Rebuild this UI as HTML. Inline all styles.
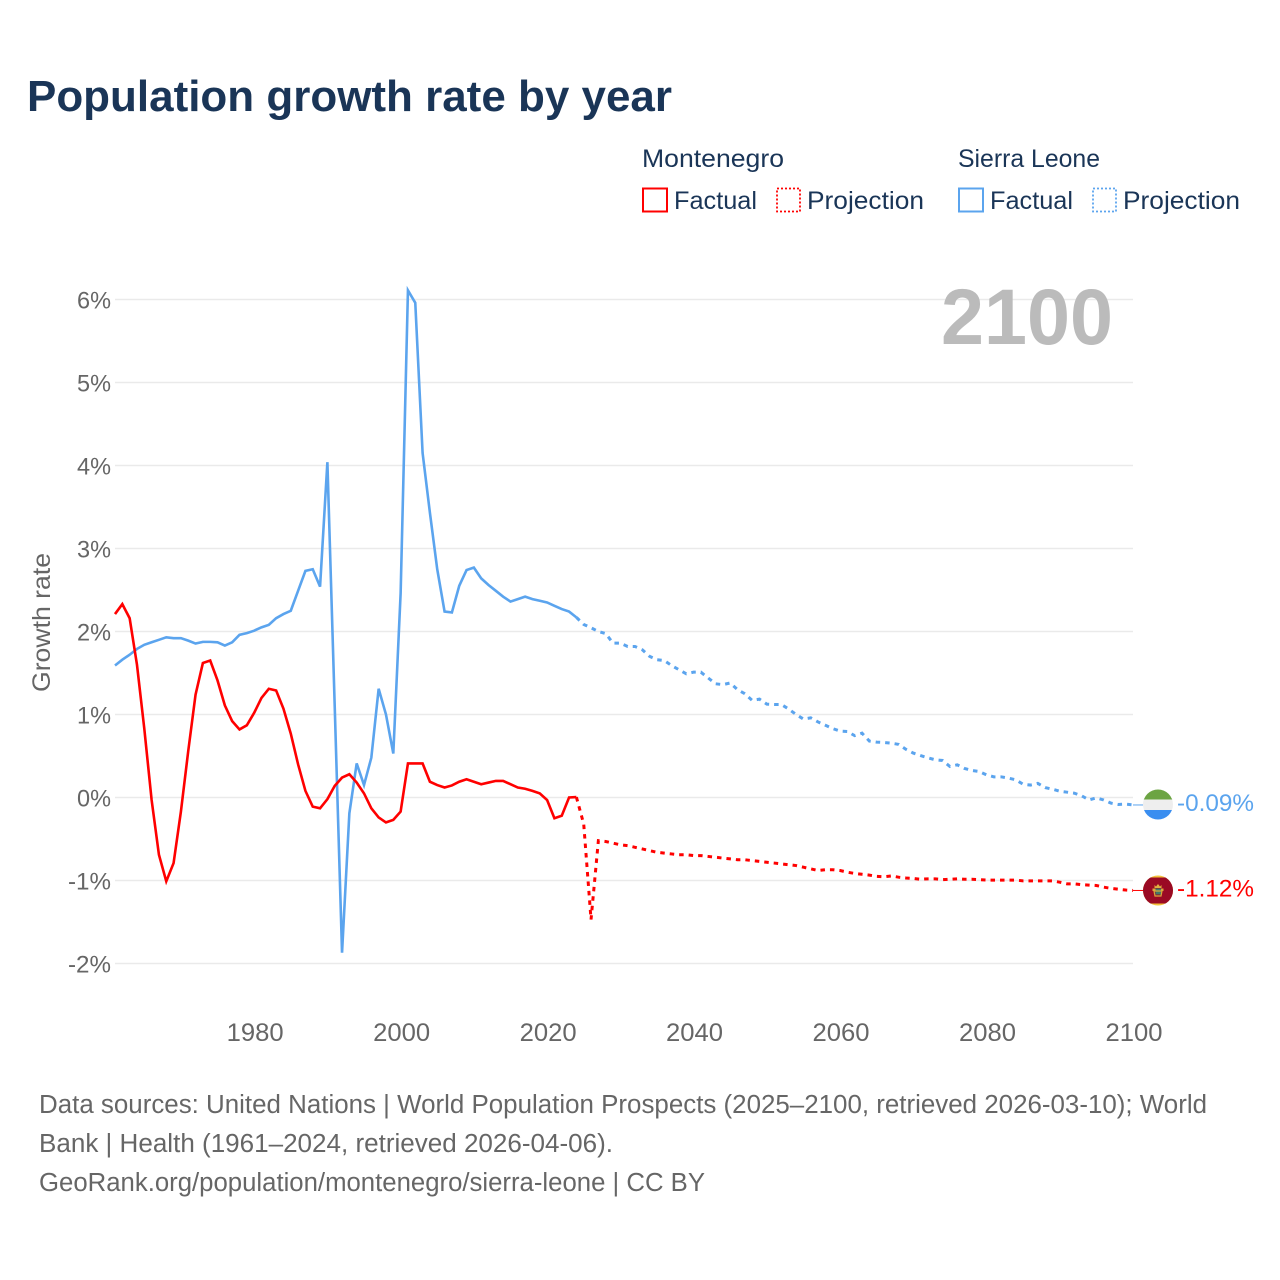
<!DOCTYPE html>
<html lang="en">
<head>
<meta charset="utf-8">
<title>Population growth rate by year</title>
<style>
html,body{margin:0;padding:0;background:#fff;width:1280px;height:1280px;overflow:hidden}
svg{display:block;font-family:"Liberation Sans",sans-serif}
</style>
</head>
<body>
<svg id="chart" xmlns="http://www.w3.org/2000/svg" width="1280" height="1280" viewBox="0 0 1280 1280">
  <rect x="0" y="0" width="1280" height="1280" fill="#ffffff"/>
  <text x="27" y="111" font-size="44" font-weight="700" fill="#1a3557" textLength="645" lengthAdjust="spacingAndGlyphs">Population growth rate by year</text>

  <g font-size="25" fill="#1a3557">
    <text x="642" y="167" textLength="142" lengthAdjust="spacingAndGlyphs">Montenegro</text>
    <rect x="643" y="188.5" width="24" height="23" fill="none" stroke="#ff0000" stroke-width="2"/>
    <text x="674" y="209" textLength="83" lengthAdjust="spacingAndGlyphs">Factual</text>
    <rect x="777" y="188.5" width="23" height="23" fill="none" stroke="#ff0000" stroke-width="1.8" stroke-dasharray="2 2"/>
    <text x="807" y="209" textLength="117" lengthAdjust="spacingAndGlyphs">Projection</text>
    <text x="958" y="167" textLength="142" lengthAdjust="spacingAndGlyphs">Sierra Leone</text>
    <rect x="959" y="188.5" width="24" height="23" fill="none" stroke="#5ba4ee" stroke-width="2"/>
    <text x="990" y="209" textLength="83" lengthAdjust="spacingAndGlyphs">Factual</text>
    <rect x="1093" y="188.5" width="23" height="23" fill="none" stroke="#5ba4ee" stroke-width="1.8" stroke-dasharray="2 2"/>
    <text x="1123" y="209" textLength="117" lengthAdjust="spacingAndGlyphs">Projection</text>
  </g>

  <g id="grid"></g>
  <g id="y-labels" font-size="24.5" fill="#666666" text-anchor="end"></g>
  <g id="x-labels" font-size="25" fill="#666666" text-anchor="middle"></g>
  <text transform="translate(50,692) rotate(-90)" font-size="25" fill="#666666" textLength="139" lengthAdjust="spacingAndGlyphs">Growth rate</text>
  <text x="1113" y="344" text-anchor="end" font-size="79" font-weight="700" fill="#bbbbbb" textLength="172" lengthAdjust="spacingAndGlyphs">2100</text>

  <g id="series"></g>

  <defs>
    <clipPath id="flag-clip-sl"><circle cx="1158" cy="804.5" r="15"/></clipPath>
    <clipPath id="flag-clip-me"><circle cx="1158" cy="890.5" r="15"/></clipPath>
  </defs>
  <g id="flag-sl" clip-path="url(#flag-clip-sl)">
    <rect x="1143" y="789" width="30" height="11" fill="#6ca443"/>
    <rect x="1143" y="799.5" width="30" height="10.5" fill="#eeeeee"/>
    <rect x="1143" y="810" width="30" height="10" fill="#3a8ef0"/>
  </g>
  <g id="flag-me" clip-path="url(#flag-clip-me)">
    <rect x="1143" y="875" width="30" height="31" fill="#f3c33b"/>
    <rect x="1143" y="877.5" width="30" height="26" fill="#9a0a24"/>
    <path d="M1154.5 885 l1.5 1.5 2-2.5 2 2.5 1.5-1.5 v3 h-7z" fill="#e0b040"/>
    <rect x="1152.5" y="888.5" width="11" height="2.5" fill="#d8a93c"/>
    <rect x="1155.5" y="888.5" width="5.5" height="6" fill="#3f7a6a"/>
    <path d="M1154 891 h8 l-1 5 h-6z" fill="none" stroke="#d8a93c" stroke-width="1.2"/>
  </g>
  <g id="end-labels" font-size="24.5"></g>

  <g font-size="25.5" fill="#666666">
    <text x="39" y="1113" textLength="1168" lengthAdjust="spacingAndGlyphs">Data sources: United Nations | World Population Prospects (2025–2100, retrieved 2026-03-10); World</text>
    <text x="39" y="1152" textLength="574" lengthAdjust="spacingAndGlyphs">Bank | Health (1961–2024, retrieved 2026-04-06).</text>
    <text x="39" y="1191" textLength="666" lengthAdjust="spacingAndGlyphs">GeoRank.org/population/montenegro/sierra-leone | CC BY</text>
  </g>
</svg>
<script>
const xTickYears = [1980, 2000, 2020, 2040, 2060, 2080, 2100];
const yTickValues = [-2, -1, 0, 1, 2, 3, 4, 5, 6];
const factualYears = [1961,1962,1963,1964,1965,1966,1967,1968,1969,1970,1971,1972,1973,1974,1975,1976,1977,1978,1979,1980,1981,1982,1983,1984,1985,1986,1987,1988,1989,1990,1991,1992,1993,1994,1995,1996,1997,1998,1999,2000,2001,2002,2003,2004,2005,2006,2007,2008,2009,2010,2011,2012,2013,2014,2015,2016,2017,2018,2019,2020,2021,2022,2023,2024];
const projectionYears = [2024,2025,2026,2027,2028,2029,2030,2031,2032,2033,2034,2035,2036,2037,2038,2039,2040,2041,2042,2043,2044,2045,2046,2047,2048,2049,2050,2051,2052,2053,2054,2055,2056,2057,2058,2059,2060,2061,2062,2063,2064,2065,2066,2067,2068,2069,2070,2071,2072,2073,2074,2075,2076,2077,2078,2079,2080,2081,2082,2083,2084,2085,2086,2087,2088,2089,2090,2091,2092,2093,2094,2095,2096,2097,2098,2099,2100];
const montenegroFactual = [2.21,2.33,2.16,1.60,0.83,-0.03,-0.69,-1.01,-0.79,-0.17,0.56,1.24,1.62,1.65,1.41,1.11,0.92,0.82,0.87,1.02,1.20,1.31,1.29,1.07,0.77,0.40,0.08,-0.11,-0.13,-0.02,0.14,0.24,0.28,0.18,0.05,-0.13,-0.24,-0.30,-0.27,-0.17,0.41,0.41,0.41,0.19,0.15,0.12,0.145,0.19,0.22,0.19,0.16,0.18,0.20,0.20,0.16,0.12,0.105,0.08,0.05,-0.03,-0.25,-0.22,0.0,0.005];
const montenegroProjection = [0.005,-0.32,-1.47,-0.52,-0.53,-0.55,-0.57,-0.58,-0.60,-0.62,-0.64,-0.66,-0.67,-0.68,-0.69,-0.69,-0.70,-0.70,-0.71,-0.72,-0.73,-0.74,-0.75,-0.75,-0.76,-0.77,-0.78,-0.79,-0.80,-0.81,-0.82,-0.84,-0.86,-0.88,-0.87,-0.87,-0.88,-0.90,-0.915,-0.925,-0.935,-0.95,-0.955,-0.945,-0.96,-0.97,-0.975,-0.985,-0.98,-0.98,-0.99,-0.985,-0.98,-0.985,-0.985,-0.99,-0.995,-0.995,-0.995,-0.995,-0.995,-1.005,-1.005,-1.005,-1.005,-1.005,-1.02,-1.04,-1.04,-1.05,-1.055,-1.06,-1.08,-1.095,-1.105,-1.115,-1.12];
const sierraLeoneFactual = [1.59,1.66,1.72,1.79,1.84,1.87,1.90,1.93,1.92,1.92,1.89,1.855,1.875,1.875,1.87,1.83,1.87,1.96,1.98,2.01,2.05,2.08,2.16,2.21,2.25,2.49,2.73,2.75,2.54,4.04,1.10,-1.87,-0.19,0.41,0.15,0.48,1.31,1.00,0.53,2.46,6.11,5.96,4.15,3.43,2.75,2.24,2.23,2.55,2.74,2.77,2.64,2.56,2.49,2.42,2.36,2.39,2.42,2.39,2.37,2.35,2.31,2.27,2.24,2.17];
const sierraLeoneProjection = [2.17,2.085,2.045,2.0,1.975,1.86,1.86,1.82,1.82,1.78,1.70,1.66,1.65,1.59,1.54,1.49,1.51,1.51,1.44,1.37,1.36,1.38,1.30,1.25,1.17,1.185,1.125,1.12,1.12,1.065,1.0,0.945,0.96,0.91,0.87,0.83,0.80,0.795,0.745,0.775,0.68,0.667,0.663,0.655,0.64,0.58,0.535,0.505,0.478,0.454,0.446,0.373,0.394,0.35,0.325,0.313,0.273,0.249,0.249,0.233,0.213,0.16,0.15,0.17,0.12,0.10,0.076,0.064,0.052,0.02,-0.03,-0.004,-0.03,-0.068,-0.084,-0.08,-0.09];

const NS = 'http://www.w3.org/2000/svg';
const plotLeft = 115, plotRight = 1133;
function xScale(year) { return plotLeft + (year - 1961) * (plotRight - plotLeft) / (2100 - 1961); }
function yScale(value) { return 797.5 - value * 83; }
function pointsFor(years, values) {
  return years.map(function (yr, i) { return xScale(yr).toFixed(2) + ',' + yScale(values[i]).toFixed(2); }).join(' ');
}
function node(tag, parent, attrs) {
  const el = document.createElementNS(NS, tag);
  Object.keys(attrs).forEach(function (k) { el.setAttribute(k, attrs[k]); });
  parent.appendChild(el);
  return el;
}

const gridGroup = document.getElementById('grid');
const yLabelGroup = document.getElementById('y-labels');
yTickValues.forEach(function (v) {
  const line = node('line', gridGroup, { x1: plotLeft, x2: plotRight, y1: yScale(v), y2: yScale(v), stroke: '#eaeaea', 'stroke-width': 1.6 });
  
  
  const label = node('text', yLabelGroup, { x: 111, y: yScale(v) + 9, textLength: v < 0 ? 43 : 34, lengthAdjust: 'spacingAndGlyphs' });
  
  
  label.textContent = v + '%';
});

const xLabelGroup = document.getElementById('x-labels');
xTickYears.forEach(function (yr) {
  const label = node('text', xLabelGroup, { x: xScale(yr) + 1, y: 1041, textLength: 57, lengthAdjust: 'spacingAndGlyphs' });
  
  
  label.textContent = yr;
});

const seriesGroup = document.getElementById('series');
function drawSeries(years, values, color, dashed, name) {
  const attrs = { points: pointsFor(years, values), fill: 'none', stroke: color, 'stroke-width': dashed ? 3 : 2.6, 'stroke-linejoin': 'miter' };
  if (dashed) { attrs['stroke-dasharray'] = '4.5 5'; }
  const line = node('polyline', seriesGroup, attrs);
  
  
}
drawSeries(factualYears, sierraLeoneFactual, '#5ba4ee', false, 'sierra-leone-factual-line');
drawSeries(projectionYears, sierraLeoneProjection, '#5ba4ee', true, 'sierra-leone-projection-line');
drawSeries(factualYears, montenegroFactual, '#ff0000', false, 'montenegro-factual-line');
drawSeries(projectionYears, montenegroProjection, '#ff0000', true, 'montenegro-projection-line');

const endGroup = document.getElementById('end-labels');
function drawEnd(value, color, name) {
  const y = yScale(value);
  const lead = node('line', seriesGroup, { x1: plotRight, x2: 1143, y1: y, y2: y, stroke: color, 'stroke-width': 1 });
  
  
  const label = node('text', endGroup, { x: 1177, y: y + 6, fill: color, textLength: 77, lengthAdjust: 'spacingAndGlyphs' });
  
  
  label.textContent = value.toFixed(2) + '%';
}
drawEnd(sierraLeoneProjection[sierraLeoneProjection.length - 1], '#5ba4ee', 'sierra-leone');
drawEnd(montenegroProjection[montenegroProjection.length - 1], '#ff0000', 'montenegro');
</script>
</body>
</html>
